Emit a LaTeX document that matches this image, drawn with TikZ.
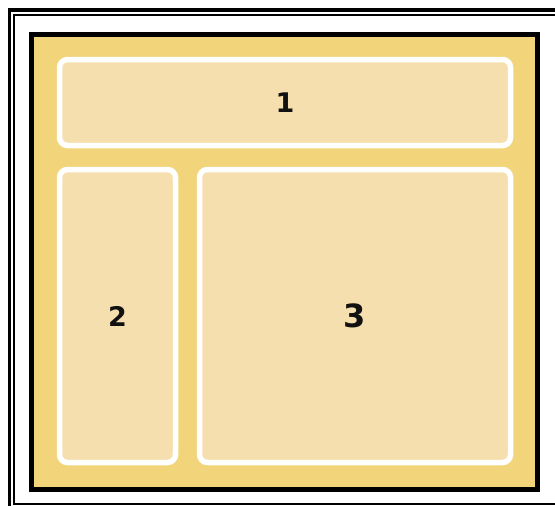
\documentclass[tikz,border=0pt]{standalone}
\usepackage{fontspec}
\setmainfont{DejaVu Sans}
\definecolor{outeryellow}{HTML}{F2D57A}
\definecolor{boxfill}{HTML}{F5DFAE}
\definecolor{ink}{HTML}{111111}
\tikzset{
  panel/.style={draw=white, line width=5.5pt, fill=boxfill, rounded corners=8pt,
    inner sep=0pt, outer sep=0pt, text=ink, font=\bfseries\fontsize{27}{27}\selectfont},
}
\begin{document}
\begin{tikzpicture}[x=1pt,y=-1pt]
\useasboundingbox (0,0) rectangle (555,506);
\clip (0,0) rectangle (555,506);
\fill[white] (0,0) rectangle (555,506);
% outer double frame
\draw[line width=3.5pt] (9.5,10) rectangle (565,516);
\draw[line width=2.5pt] (14,15) rectangle (560,504);
% yellow frame
\draw[line width=5.5pt, fill=outeryellow] (31.5,34.5) rectangle (537.5,489.5);
% panels
\node[panel, minimum width=451pt, minimum height=86pt] (p1) at (285,102.5) {1};
\node[panel, minimum width=116pt, minimum height=293pt] (p2) at (117.5,316) {2};
\node[panel, minimum width=311pt, minimum height=293pt, font=\bfseries\fontsize{32}{32}\selectfont] (p3) at (355,316) {3};
\end{tikzpicture}
\end{document}
